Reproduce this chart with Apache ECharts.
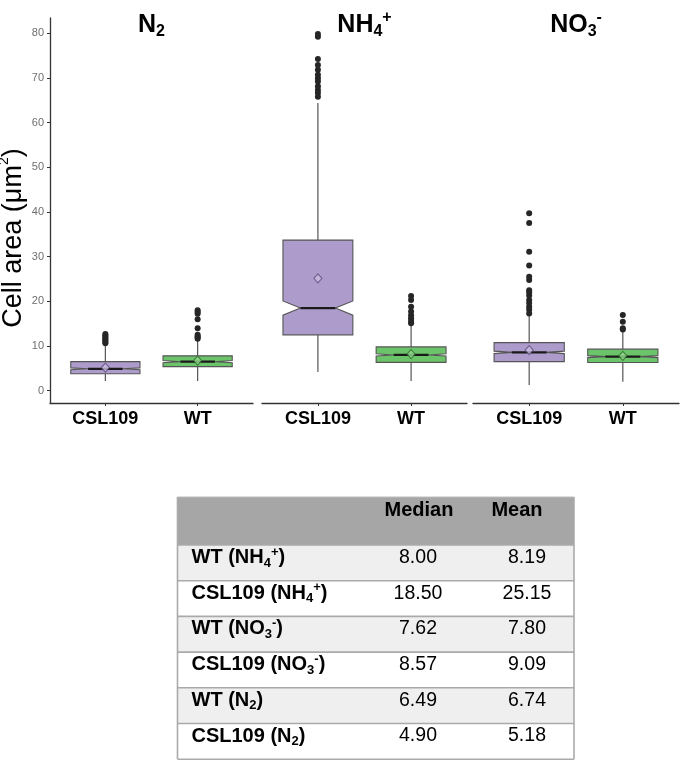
<!DOCTYPE html>
<html>
<head>
<meta charset="utf-8">
<script src="https://cdn.jsdelivr.net/npm/echarts@6/dist/echarts.min.js"></script>
<style>html,body{margin:0;padding:0;background:#fff}#c{width:685px;height:761px}</style>
</head>
<body>
<div id="c"></div>
<script>
// ---- data ----
const groups = ['CSL109', 'WT'];
const yTicks = [0, 10, 20, 30, 40, 50, 60, 70, 80];
// [lower whisker, Q1, median, Q3, upper whisker] for CSL109, WT
const n2Box  = [[2.2, 3.8, 4.90, 6.5, 10.3], [2.2, 5.4, 6.49, 7.8, 11.3]];
const nh4Box = [[4.2, 12.5, 18.50, 33.7, 64.4], [2.2, 6.35, 8.00, 9.8, 14.6]];
const no3Box = [[1.3, 6.5, 8.57, 10.75, 16.8], [2.0, 6.3, 7.62, 9.3, 13.3]];
const n2Notch  = [[4.7, 5.1], [6.25, 6.75]];
const nh4Notch = [[16.9, 20.1], [7.75, 8.25]];
const no3Notch = [[8.3, 8.85], [7.4, 7.85]];
const n2Mean  = [5.18, 6.74];
const nh4Mean = [25.15, 8.19];
const no3Mean = [9.09, 7.80];
const n2Out  = [[10.6, 10.9, 11.2, 11.5, 11.8, 12.1, 12.4, 12.7], [11.6, 11.9, 12.2, 12.5, 14.0, 16.0, 17.2, 17.6, 18.0]];
const nh4Out = [[65.8, 66.6, 67.3, 68.1, 69.2, 69.9, 70.7, 71.8, 72.9, 74.2, 79.2, 79.8], [15.1, 15.6, 16.2, 16.9, 17.7, 18.8, 20.3, 21.2]];
const no3Out = [[17.3, 18.1, 18.8, 19.6, 20.3, 21.3, 22.0, 22.5, 24.8, 25.5, 28.0, 31.1, 37.5, 39.7], [13.7, 14.0, 15.45, 16.95]];
const panelTitles = ['{m|N}{sub|2}', '{m|NH}{sub|4}{sup|+}', '{m|NO}{sub|3}{sup|-}'];
const tableLabels = [
  '{b|WT (NH}{bs|4}{bp|+}{b|)}',
  '{b|CSL109 (NH}{bs|4}{bp|+}{b|)}',
  '{b|WT (NO}{bs|3}{bp|-}{b|)}',
  '{b|CSL109 (NO}{bs|3}{bp|-}{b|)}',
  '{b|WT (N}{bs|2}{b|)}',
  '{b|CSL109 (N}{bs|2}{b|)}'
];
const tableHeader = ['Median', 'Mean'];
const tableMedian = ['8.00', '18.50', '7.62', '8.57', '6.49', '4.90'];
const tableMean = ['8.19', '25.15', '7.80', '9.09', '6.74', '5.18'];

// ---- build ----
const FONT = '"Liberation Sans", Arial, Helvetica, sans-serif';
const boxFill = ['#AD9BCB', '#6CC46A'];
const meanFill = ['#C9BCE0', '#93DB90'];
const meanStroke = ['#5E4C7A', '#2F6B2D'];
const panels = [
  {box: n2Box, notch: n2Notch, mean: n2Mean, out: n2Out},
  {box: nh4Box, notch: nh4Notch, mean: nh4Mean, out: nh4Out},
  {box: no3Box, notch: no3Notch, mean: no3Mean, out: no3Out}
];
const gridDefs = [{left: 50, width: 203}, {left: 262, width: 205}, {left: 473, width: 206}];

const grid = gridDefs.map(g => ({left: g.left, width: g.width, top: 18, height: 385}));
const xAxis = gridDefs.map((g, i) => ({
  type: 'value', gridIndex: i, min: 0.4, max: 2.6,
  axisLine: {show: true, onZero: false, lineStyle: {color: '#333', width: 1.3}},
  axisTick: {show: true, customValues: [1, 2], length: 3, lineStyle: {color: '#333', width: 1}},
  axisLabel: {customValues: [1, 2], formatter: v => groups[Math.round(v) - 1], fontWeight: 'bold',
    fontSize: 18, color: '#000', margin: 7, fontFamily: FONT},
  splitLine: {show: false}
}));
const yAxis = gridDefs.map((g, i) => ({
  type: 'value', gridIndex: i, min: -2.75, max: 83.4, show: i === 0,
  axisLine: {show: true, lineStyle: {color: '#333', width: 1.3}},
  axisTick: {show: true, customValues: yTicks, length: 3, lineStyle: {color: '#333', width: 1}},
  axisLabel: {customValues: yTicks, fontSize: 11, color: '#6f6f6f', margin: 6, fontFamily: FONT},
  splitLine: {show: false}
}));

function renderBox(params, api) {
  const x = api.value(0), low = api.value(1), q1 = api.value(2), med = api.value(3),
        q3 = api.value(4), high = api.value(5), nlo = api.value(6), nhi = api.value(7), g = api.value(8);
  const hw = 0.375;
  const P = (dx, v) => api.coord([x + dx, v]);
  const a = P(0, q3), b = P(0, high), c = P(0, q1), d = P(0, low);
  const ml = P(-hw / 2, med), mr = P(hw / 2, med);
  return {type: 'group', children: [
    {type: 'line', shape: {x1: a[0], y1: a[1], x2: b[0], y2: b[1]}, style: {stroke: '#555', lineWidth: 1.2}},
    {type: 'line', shape: {x1: c[0], y1: c[1], x2: d[0], y2: d[1]}, style: {stroke: '#555', lineWidth: 1.2}},
    {type: 'polygon', shape: {points: [P(-hw, q3), P(hw, q3), P(hw, nhi), mr, P(hw, nlo), P(hw, q1),
      P(-hw, q1), P(-hw, nlo), ml, P(-hw, nhi)]}, style: {fill: boxFill[g], stroke: '#555', lineWidth: 1.1}},
    {type: 'line', shape: {x1: ml[0], y1: ml[1], x2: mr[0], y2: mr[1]}, style: {stroke: '#1a1a1a', lineWidth: 2.2}}
  ]};
}

const series = [];
panels.forEach((p, i) => {
  series.push({
    type: 'custom', xAxisIndex: i, yAxisIndex: i, renderItem: renderBox, z: 2,
    data: p.box.map((b, g) => [g + 1, b[0], b[1], b[2], b[3], b[4], p.notch[g][0], p.notch[g][1], g])
  });
  const outData = [];
  p.out.forEach((arr, g) => arr.forEach(v => outData.push([g + 1, v])));
  series.push({
    type: 'scatter', xAxisIndex: i, yAxisIndex: i, z: 4, symbol: 'circle', symbolSize: 6,
    itemStyle: {color: '#262626', opacity: 1}, data: outData, silent: true
  });
  series.push({
    type: 'scatter', xAxisIndex: i, yAxisIndex: i, z: 5, symbol: 'diamond', symbolSize: [8, 9],
    data: p.mean.map((m, g) => ({value: [g + 1, m], itemStyle: {color: meanFill[g], borderColor: meanStroke[g], borderWidth: 1.1}})),
    silent: true
  });
});

const graphic = [];
// y-axis title
graphic.push({
  type: 'text', x: 12, y: 238, rotation: Math.PI / 2,
  style: {text: '{t|Cell area (μm}{ts|2}{t|)}', align: 'center', verticalAlign: 'middle',
    rich: {t: {fontSize: 27, fontFamily: FONT, fill: '#000', lineHeight: 30, verticalAlign: 'bottom'},
           ts: {fontSize: 14, fontFamily: FONT, fill: '#000', lineHeight: 14, verticalAlign: 'top'}}}
});
// panel titles
gridDefs.forEach((g, i) => {
  graphic.push({
    type: 'text', x: g.left + g.width / 2, y: 25,
    style: {text: panelTitles[i], align: 'center', verticalAlign: 'middle',
      rich: {m: {fontSize: 25, fontWeight: 'bold', fontFamily: FONT, fill: '#000', lineHeight: 30, verticalAlign: 'middle'},
             sub: {fontSize: 16, fontWeight: 'bold', fontFamily: FONT, fill: '#000', lineHeight: 16, verticalAlign: 'bottom'},
             sup: {fontSize: 16, fontWeight: 'bold', fontFamily: FONT, fill: '#000', lineHeight: 16, verticalAlign: 'top'}}}
  });
});
// table
const tL = 177.5, tR = 574, tTop = 497, hdrBot = 545, rowH = 35.7;
const medX = 418, meanX = 527, labX = 191.5;
graphic.push({type: 'rect', shape: {x: tL, y: tTop, width: tR - tL, height: hdrBot - tTop}, style: {fill: '#A6A6A6'}});
tableHeader.forEach((h, k) => {
  graphic.push({type: 'text', x: k === 0 ? 419 : 517, y: 510,
    style: {text: h, align: 'center', verticalAlign: 'middle', fontSize: 20, fontWeight: 'bold', fontFamily: FONT, fill: '#000'}});
});
const richT = {
  b: {fontSize: 20, fontWeight: 'bold', fontFamily: FONT, fill: '#000', lineHeight: 24, verticalAlign: 'middle'},
  bs: {fontSize: 13, fontWeight: 'bold', fontFamily: FONT, fill: '#000', lineHeight: 13, verticalAlign: 'bottom'},
  bp: {fontSize: 13, fontWeight: 'bold', fontFamily: FONT, fill: '#000', lineHeight: 13, verticalAlign: 'top'}
};
tableLabels.forEach((lab, r) => {
  const top = hdrBot + r * rowH;
  graphic.push({type: 'rect', shape: {x: tL, y: top, width: tR - tL, height: rowH}, style: {fill: r % 2 === 0 ? '#EFEFEF' : '#FFFFFF'}});
  graphic.push({type: 'text', x: labX, y: top + 12.5, style: {text: lab, align: 'left', verticalAlign: 'middle', rich: richT}});
  graphic.push({type: 'text', x: medX, y: top + 12.5, style: {text: tableMedian[r], align: 'center', verticalAlign: 'middle', fontSize: 19.5, fontFamily: FONT, fill: '#000'}});
  graphic.push({type: 'text', x: meanX, y: top + 12.5, style: {text: tableMean[r], align: 'center', verticalAlign: 'middle', fontSize: 19.5, fontFamily: FONT, fill: '#000'}});
});
// table lines
const tBot = hdrBot + tableLabels.length * rowH;
for (let r = 0; r <= tableLabels.length; r++) {
  const y = hdrBot + r * rowH;
  graphic.push({type: 'line', shape: {x1: tL, y1: y, x2: tR, y2: y}, style: {stroke: '#AAAAAA', lineWidth: 1.6}, z: 10});
}
graphic.push({type: 'line', shape: {x1: tL, y1: tTop, x2: tR, y2: tTop}, style: {stroke: '#BDBDBD', lineWidth: 1}, z: 10});
graphic.push({type: 'line', shape: {x1: tL, y1: tTop, x2: tL, y2: tBot}, style: {stroke: '#AAAAAA', lineWidth: 1.6}, z: 10});
graphic.push({type: 'line', shape: {x1: tR, y1: tTop, x2: tR, y2: tBot}, style: {stroke: '#AAAAAA', lineWidth: 1.6}, z: 10});

const chart = echarts.init(document.getElementById('c'), null, {renderer: 'canvas'});
chart.setOption({
  animation: false,
  backgroundColor: '#fff',
  grid, xAxis, yAxis, series, graphic
});
</script>
</body>
</html>
